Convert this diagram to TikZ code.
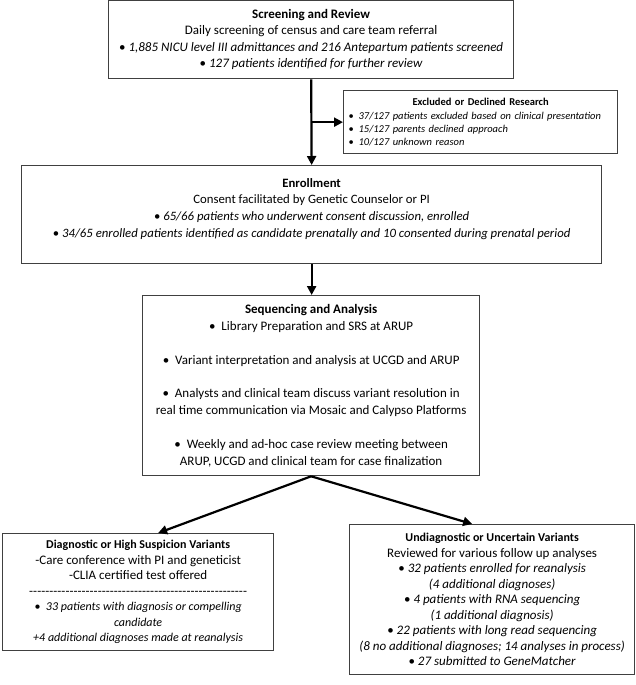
\documentclass[tikz,border=0pt]{standalone}
\usepackage{fontspec}
\setmainfont{Carlito}
\usetikzlibrary{arrows.meta,positioning}

\definecolor{boxgray}{RGB}{64,64,64}
\newcommand{\dashrow}{\hbox to 218pt{\xleaders\hbox{-}\hfill}}
\newcommand{\boxtitle}[2]{{\fontsize{#1}{#1}\selectfont\textbf{#2}}}
\newcommand{\exitem}[1]{\par\noindent\hangindent=10pt\makebox[10pt][l]{\textbullet}\textit{#1}}

\tikzset{
  box/.style={draw=boxgray, line width=1.3pt, align=center, anchor=north west, inner sep=3pt},
  smallfont/.style={font=\fontsize{10.5}{13.2}\selectfont},
  flow/.style={line width=2.2pt, -{Triangle[length=9pt,width=9pt]}},
}

\begin{document}
\begin{tikzpicture}[x=1pt,y=1pt,yscale=-1]
\useasboundingbox (0,0) rectangle (636,685);

%Box: Screening
\node [box, font=\fontsize{13}{16.5}\selectfont, minimum width=405pt, minimum height=78pt] (screen) at (108,0)
  {\textbf{Screening and Review}\\
   Daily screening of census and care team referral\\
   \textbullet\ \textit{1,885 NICU level III admittances and 216 Antepartum patients screened}\\
   \textbullet\ \textit{127 patients identified for further review}};

%Box: Excluded
\node [draw=boxgray, line width=1.3pt, anchor=north west, smallfont, text width=264pt, inner xsep=5pt, inner ysep=3pt, minimum height=63pt] (excl) at (343,90)
  {\centering\boxtitle{10.5}{Excluded or Declined Research}\par\raggedright
   \exitem{37/127 patients excluded based on clinical presentation}
   \exitem{15/127 parents declined approach}
   \exitem{10/127 unknown reason}\par};

%Box: Enrollment
\node [box, font=\fontsize{12.75}{16.8}\selectfont, minimum width=580pt, minimum height=98pt] (enroll) at (21,165)
  {\textbf{Enrollment}\\
   Consent facilitated by Genetic Counselor or PI\\
   \textbullet\ \textit{65/66 patients who underwent consent discussion, enrolled}\\
   \textbullet\ \textit{34/65 enrolled patients identified as candidate prenatally and 10 consented during prenatal period}\\[-3pt]
   \mbox{}};

%Box: Sequencing
\node [box, font=\fontsize{13}{17}\selectfont, minimum width=337pt, minimum height=180pt] (seq) at (142,295)
  {\textbf{Sequencing and Analysis}\\
   \textbullet\ \ Library Preparation and SRS at ARUP\\[16.5pt]
   \textbullet\ \ Variant interpretation and analysis at UCGD and ARUP\\[16.5pt]
   \textbullet\ \ Analysts and clinical team discuss variant resolution in\\
   real time communication via Mosaic and Calypso Platforms\\[16.5pt]
   \textbullet\ \ Weekly and ad-hoc case review meeting between\\
   ARUP, UCGD and clinical team for case finalization};

%Box: Diagnostic
\node [box, font=\fontsize{13}{15.5}\selectfont, minimum width=271pt, minimum height=117pt] (diag) at (2,533)
  {\boxtitle{12}{Diagnostic or High Suspicion Variants}\\
   -Care conference with PI and geneticist\\
   -CLIA certified test offered\\
   \dashrow\\
   {\fontsize{12}{15.5}\selectfont\textbullet\ \ \textit{33 patients with diagnosis or compelling}}\\
   {\fontsize{12}{15.5}\selectfont\textit{candidate}}\\
   {\fontsize{12}{15.5}\selectfont\textit{+4 additional diagnoses made at reanalysis}}};

%Box: Undiagnostic
\node [box, font=\fontsize{13}{15.5}\selectfont, minimum width=285pt, minimum height=150pt] (undiag) at (349,524)
  {\boxtitle{12}{Undiagnostic or Uncertain Variants}\\
   Reviewed for various follow up analyses\\
   \textbullet\ \textit{32 patients enrolled for reanalysis}\\
   \textit{(4 additional diagnoses)}\\
   \textbullet\ \textit{4 patients with RNA sequencing}\\
   \textit{(1 additional diagnosis)}\\
   \textbullet\ \textit{22 patients with long read sequencing}\\
   \textit{(8 no additional diagnoses; 14 analyses in process)}\\
   \textbullet\ \textit{27 submitted to GeneMatcher}};

%Arrows
\draw [flow] (screen.south) -- (enroll.north);
\draw [flow] (screen.south |- excl.west) -- (excl.west);
\draw [flow] (enroll.south) -- (enroll.south |- seq.north);
\draw [flow] (seq.south) -- ([xshift=20pt]diag.north);
\draw [flow] (seq.south) -- ([xshift=-20pt]undiag.north);

\end{tikzpicture}
\end{document}
